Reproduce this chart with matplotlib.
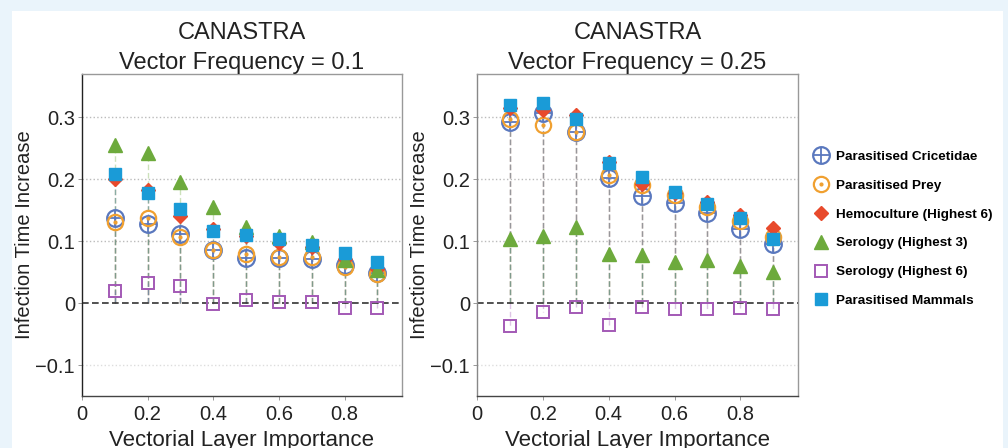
import matplotlib.pyplot as plt
from matplotlib.patches import Rectangle
from matplotlib.lines import Line2D

plt.rcParams['font.family'] = ['Liberation Sans', 'DejaVu Sans']

# Data
x = [0.1, 0.2, 0.3, 0.4, 0.5, 0.6, 0.7, 0.8, 0.9]

# Vector Frequency = 0.1
cric_01 = [0.137, 0.127, 0.112, 0.085, 0.073, 0.073, 0.072, 0.062, 0.048]
prey_01 = [0.131, 0.138, 0.107, 0.086, 0.080, 0.074, 0.075, 0.058, 0.047]
hemo_01 = [0.200, 0.183, 0.140, 0.119, 0.108, 0.097, 0.091, 0.072, 0.055]
sero3_01 = [0.255, 0.242, 0.196, 0.156, 0.123, 0.109, 0.098, 0.070, 0.053]
sero6_01 = [0.020, 0.033, 0.028, -0.002, 0.005, 0.001, 0.001, -0.008, -0.008]
mamm_01 = [0.209, 0.178, 0.152, 0.116, 0.110, 0.104, 0.094, 0.081, 0.066]

# Vector Frequency = 0.25
cric_025 = [0.293, 0.307, 0.277, 0.202, 0.173, 0.161, 0.145, 0.120, 0.095]
prey_025 = [0.297, 0.287, 0.277, 0.207, 0.190, 0.174, 0.156, 0.133, 0.106]
hemo_025 = [0.315, 0.312, 0.303, 0.228, 0.193, 0.178, 0.164, 0.143, 0.122]
sero3_025 = [0.104, 0.109, 0.123, 0.080, 0.078, 0.066, 0.069, 0.060, 0.050]
sero6_025 = [-0.037, -0.014, -0.007, -0.036, -0.006, -0.010, -0.010, -0.008, -0.010]
mamm_025 = [0.320, 0.323, 0.298, 0.226, 0.204, 0.180, 0.160, 0.137, 0.104]

labels = ['Parasitised Cricetidae', 'Parasitised Prey', 'Hemoculture (Highest 6)',
          'Serology (Highest 3)', 'Serology (Highest 6)', 'Parasitised Mammals']
colors = ['#5A78BE', '#F0A030', '#E84A2C', '#6DAA3C', '#A359B5', '#1A9BD7']

panels = [
    ('CANASTRA\nVector Frequency = 0.1',
     [cric_01, prey_01, hemo_01, sero3_01, sero6_01, mamm_01]),
    ('CANASTRA\nVector Frequency = 0.25',
     [cric_025, prey_025, hemo_025, sero3_025, sero6_025, mamm_025]),
]

fig = plt.figure(figsize=(10.08, 4.48), dpi=100, facecolor='#EAF4FB')
fig.patches.append(Rectangle((12 / 1008, 0), 991 / 1008, 437 / 448,
                             transform=fig.transFigure, facecolor='white',
                             edgecolor='none', zorder=-10))

axes = [fig.add_axes([82 / 1008, 52 / 448, 320 / 1008, 322 / 448]),
        fig.add_axes([477 / 1008, 52 / 448, 321 / 1008, 322 / 448])]


def draw_series(ax, i, y):
    c = colors[i]
    ax.vlines(x, 0, y, colors=c, linestyles=(0, (4, 2)), linewidth=1.0, alpha=0.35, zorder=2)
    if i == 0:
        ax.plot(x, y, 'o', ms=12, mfc='none', mec=c, mew=1.6, zorder=3)
        ax.plot(x, y, '+', ms=12, mec=c, mew=1.3, zorder=3)
    elif i == 1:
        ax.plot(x, y, 'o', ms=11, mfc='none', mec=c, mew=1.6, zorder=3)
        ax.plot(x, y, '.', ms=4, mfc=c, mec=c, zorder=3)
    elif i == 2:
        ax.plot(x, y, 'D', ms=7, mfc=c, mec=c, zorder=3)
    elif i == 3:
        ax.plot(x, y, '^', ms=10, mfc=c, mec=c, zorder=3)
    elif i == 4:
        ax.plot(x, y, 's', ms=9, mfc='none', mec=c, mew=1.4, zorder=3)
    else:
        ax.plot(x, y, 's', ms=8.5, mfc=c, mec=c, zorder=3)


for k, (ax, (title, series)) in enumerate(zip(axes, panels)):
    ax.set_facecolor('none')
    for i, y in enumerate(series):
        draw_series(ax, i, y)
    ax.axhline(0, color='#333333', linestyle=(0, (4, 2)), linewidth=1.2, zorder=2.5)
    for gy in [0.1, 0.2, 0.3]:
        ax.axhline(gy, color='#BBBBBB', linestyle=':', linewidth=1.0, zorder=1)
    ax.axhline(-0.1, color='#DDDDDD', linestyle=':', linewidth=1.0, zorder=1)
    ax.set_xlim(0, 0.975)
    ax.set_ylim(-0.15, 0.37)
    ax.set_xticks([0, 0.2, 0.4, 0.6, 0.8])
    ax.set_xticklabels(['0', '0.2', '0.4', '0.6', '0.8'])
    ax.set_yticks([-0.1, 0, 0.1, 0.2, 0.3])
    ax.set_yticklabels(['\u22120.1', '0', '0.1', '0.2', '0.3'])
    ax.tick_params(labelsize=14.5, length=3, width=0.6, colors='#888888',
                   labelcolor='#222222')
    ax.tick_params(axis='y', pad=2)
    ax.set_xlabel('Vectorial Layer Importance', fontsize=16, color='#222222', labelpad=4)
    ax.set_ylabel('Infection Time Increase', fontsize=14.5, color='#222222', labelpad=1)
    ax.set_title(title, fontsize=17, color='#222222', linespacing=1.45, pad=3)
    edge = '#222222' if k == 0 else '#888888'
    ax.spines['left'].set_color(edge)
    ax.spines['bottom'].set_color('#444444')
    ax.spines['top'].set_color('#999999')
    ax.spines['right'].set_color('#999999')
    for s in ax.spines.values():
        s.set_linewidth(1.0)

# Legend
handles = [
    (Line2D([], [], ls='', marker='o', ms=12, mfc='none', mec=colors[0], mew=1.6),
     Line2D([], [], ls='', marker='+', ms=12, mec=colors[0], mew=1.3)),
    (Line2D([], [], ls='', marker='o', ms=11, mfc='none', mec=colors[1], mew=1.6),
     Line2D([], [], ls='', marker='.', ms=4, mfc=colors[1], mec=colors[1])),
    Line2D([], [], ls='', marker='D', ms=7, mfc=colors[2], mec=colors[2]),
    Line2D([], [], ls='', marker='^', ms=10, mfc=colors[3], mec=colors[3]),
    Line2D([], [], ls='', marker='s', ms=9, mfc='none', mec=colors[4], mew=1.4),
    Line2D([], [], ls='', marker='s', ms=8.5, mfc=colors[5], mec=colors[5]),
]
fig.legend(handles, labels, loc='upper left', bbox_to_anchor=(808 / 1008, 1 - 145 / 448),
           frameon=False, prop={'size': 9.7, 'weight': 'bold'}, labelspacing=1.22,
           handlelength=1.2, handletextpad=0.5, borderaxespad=0)

fig.savefig('out.png', dpi=100, facecolor=fig.get_facecolor())
